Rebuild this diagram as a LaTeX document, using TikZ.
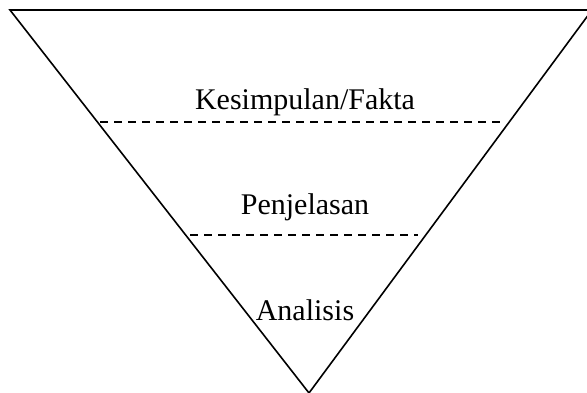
\documentclass[tikz,border=0pt]{standalone}
\usepackage{fontspec}
\setmainfont{Liberation Serif}
\usetikzlibrary{positioning}

\begin{document}
\begin{tikzpicture}[
        x=1pt, y=-1pt,
        label/.style={font=\fontsize{30}{36}\selectfont, inner sep=0pt},
        edge/.style={line width=1.6pt, line join=miter},
        divider/.style={line width=1.4pt, dash pattern=on 8pt off 6pt}
    ]

    \useasboundingbox (0,0) rectangle (587,392);
    \clip (0,0) rectangle (587,392);

    \coordinate (topleft) at (10,10);
    \coordinate (topright) at (592,10);
    \coordinate (tip) at (309,393);

    \draw [edge] (topleft) -- (topright) -- (tip) -- cycle;

    \coordinate (d1l) at (100,122);
    \coordinate (d1r) at (503,122);
    \coordinate (d2l) at (190,235);
    \coordinate (d2r) at (418,235);

    \draw [divider] (d1l) -- (d1r);
    \draw [divider] (d2l) -- (d2r);

    \node (fakta) [label] at (305,102) {Kesimpulan/Fakta};
    \node (jelas) [label] at (305,207) {Penjelasan};
    \node (analisis) [label] at (305,310) {Analisis};

\end{tikzpicture}
\end{document}
